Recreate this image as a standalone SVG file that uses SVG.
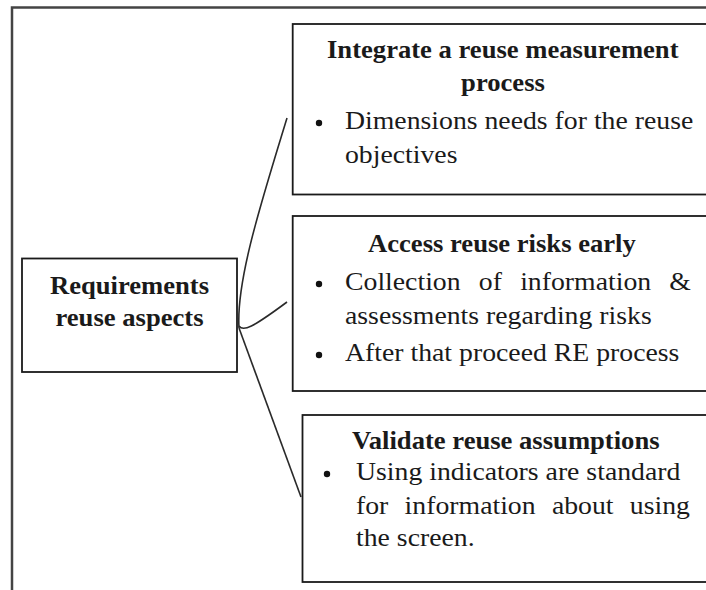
<svg xmlns="http://www.w3.org/2000/svg" width="706" height="590" viewBox="0 0 706 590">
<style>
.frame{fill:none;stroke:#444;stroke-width:2.5}
.box{fill:#fff;stroke:#1a1a1a;stroke-width:1.8}
.conn{fill:none;stroke:#2a2a2a;stroke-width:1.6}
.b{font-family:"Liberation Serif","Times New Roman",serif;font-weight:bold;font-size:25px;fill:#1a1a1a}
.r{font-family:"Liberation Serif","Times New Roman",serif;font-size:25px;fill:#1a1a1a}
.m{text-anchor:middle}
.dot{fill:#111}
</style>
<rect width="706" height="590" fill="#fff"/>
<rect class="frame" x="12" y="7.5" width="740" height="620"/>
<g id="connectors">
<path class="conn" d="M287,118 C262,200 236,280 239,328"/>
<path class="conn" d="M239,326 C243,332 252,328 287,302"/>
<path class="conn" d="M239,328 L301,497"/>
</g>
<g id="root">
<rect class="box" x="22" y="258.5" width="215" height="113.5"/>
<text class="b m" transform="translate(129.5,293.5) scale(1.065,1)">Requirements</text>
<text class="b m" transform="translate(129.5,326) scale(1.065,1)">reuse aspects</text>
</g>
<g id="box1">
<rect class="box" x="292.7" y="24" width="440" height="170.5"/>
<text class="b" transform="translate(327,58) scale(1.065,1)">Integrate a reuse measurement</text>
<text class="b m" transform="translate(503,91) scale(1.065,1)">process</text>
<circle class="dot" cx="319" cy="123" r="3.2"/>
<text class="r" transform="translate(345,129) scale(1.11,1)">Dimensions needs for the reuse</text>
<text class="r" transform="translate(345,163) scale(1.11,1)">objectives</text>
</g>
<g id="box2">
<rect class="box" x="292.7" y="216" width="440" height="175"/>
<text class="b" transform="translate(368,252) scale(1.065,1)">Access reuse risks early</text>
<circle class="dot" cx="319" cy="284" r="3.2"/>
<text class="r" transform="translate(345,290) scale(1.11,1)"><tspan x="0">Collection</tspan><tspan x="120.6">of</tspan><tspan x="157.8">information</tspan><tspan x="292.2">&amp;</tspan></text>
<text class="r" transform="translate(345,324) scale(1.11,1)">assessments regarding risks</text>
<circle class="dot" cx="319" cy="355" r="3.2"/>
<text class="r" transform="translate(345,361) scale(1.11,1)">After that proceed RE process</text>
</g>
<g id="box3">
<rect class="box" x="302.5" y="415" width="430" height="167"/>
<text class="b" transform="translate(352,449) scale(1.065,1)">Validate reuse assumptions</text>
<circle class="dot" cx="327" cy="474" r="3.2"/>
<text class="r" transform="translate(356,480) scale(1.11,1)">Using indicators are standard</text>
<text class="r" transform="translate(356,514) scale(1.11,1)"><tspan x="0">for</tspan><tspan x="43.8">information</tspan><tspan x="176.5">about</tspan><tspan x="246.7">using</tspan></text>
<text class="r" transform="translate(356,546) scale(1.11,1)">the screen.</text>
</g>
</svg>
